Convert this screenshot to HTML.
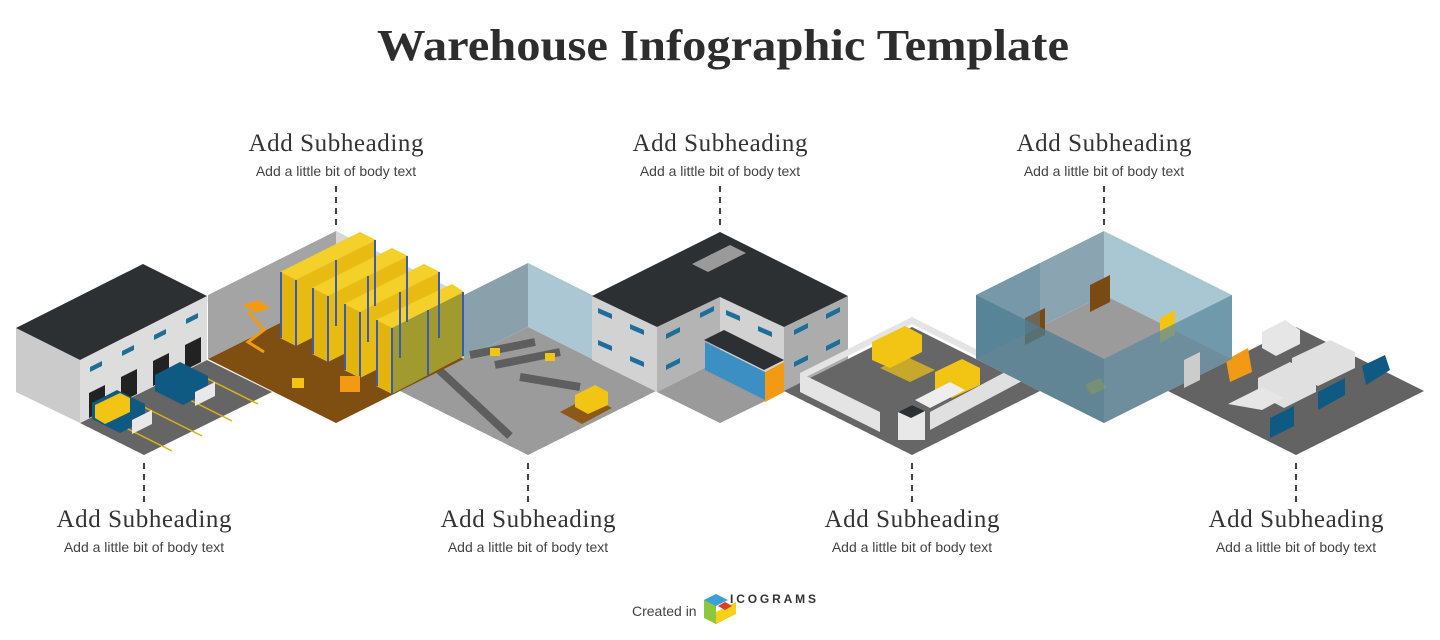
<!DOCTYPE html>
<html><head><meta charset="utf-8"><style>
html,body{margin:0;padding:0;background:#fff;width:1440px;height:640px;overflow:hidden}
svg{display:block}
</style></head><body>
<svg width="1440" height="640" viewBox="0 0 1440 640" xmlns="http://www.w3.org/2000/svg">
<text x="723" y="60" text-anchor="middle" font-family="Liberation Serif, serif" font-weight="bold" font-size="44" textLength="692" lengthAdjust="spacingAndGlyphs" fill="#2d2d2d">Warehouse Infographic Template</text>

<g font-family="Liberation Serif, serif" font-size="25" fill="#333" text-anchor="middle">
<text x="336" y="151" textLength="175">Add Subheading</text>
<text x="720" y="151" textLength="175">Add Subheading</text>
<text x="1104" y="151" textLength="175">Add Subheading</text>
<text x="144" y="527" textLength="175">Add Subheading</text>
<text x="528" y="527" textLength="175">Add Subheading</text>
<text x="912" y="527" textLength="175">Add Subheading</text>
<text x="1296" y="527" textLength="175">Add Subheading</text>
</g>
<g font-family="Liberation Sans, sans-serif" font-size="14" fill="#444" text-anchor="middle">
<text x="336" y="176">Add a little bit of body text</text>
<text x="720" y="176">Add a little bit of body text</text>
<text x="1104" y="176">Add a little bit of body text</text>
<text x="144" y="552">Add a little bit of body text</text>
<text x="528" y="552">Add a little bit of body text</text>
<text x="912" y="552">Add a little bit of body text</text>
<text x="1296" y="552">Add a little bit of body text</text>
</g>
<g stroke="#444" stroke-width="2" stroke-dasharray="6,5">
<line x1="336" y1="186" x2="336" y2="226"/><line x1="720" y1="186" x2="720" y2="226"/><line x1="1104" y1="186" x2="1104" y2="226"/>
<line x1="144" y1="463" x2="144" y2="505"/><line x1="528" y1="463" x2="528" y2="505"/><line x1="912" y1="463" x2="912" y2="505"/><line x1="1296" y1="463" x2="1296" y2="505"/>
</g>

<!-- cube3 conveyor -->
<polygon points="400,391 528,327 528,263 400,327" fill="#8aa0aa"/>
<polygon points="528,263 656,327 656,391 528,327" fill="#aac7d3"/>
<polygon points="400,391 528,327 656,391 528,455" fill="#9b9b9b"/>
<g stroke="#5e5e5e" stroke-width="8" fill="none">
<line x1="437" y1="368" x2="510" y2="436"/>
<line x1="470" y1="355" x2="535" y2="342"/>
<line x1="495" y1="365" x2="560" y2="352"/>
<line x1="520" y1="377" x2="580" y2="387"/>
</g>
<polygon points="560,412 590,396 612,408 582,424" fill="#8b5a16"/>
<polygon points="575,395 595,385 608,392 608,405 588,414 575,407" fill="#f2c414"/>
<rect x="490" y="348" width="10" height="8" fill="#f2c414"/><rect x="545" y="353" width="10" height="8" fill="#f2c414"/>

<!-- cube2 warehouse -->
<polygon points="208,359 336,295 336,231 208,295" fill="#a4a4a4"/>
<polygon points="336,231 464,295 464,359 336,295" fill="#d6d6d6"/>
<polygon points="208,359 336,295 464,359 336,423" fill="#7f4f12"/>
<!-- racks -->
<g>
<polygon points="280,272 296,280 376,240 360,232" fill="#f5cf2a"/>
<polygon points="280,272 296,280 296,346 280,338" fill="#e3b40e"/>
<polygon points="296,280 376,240 376,306 296,346" fill="#e8bb12"/>
<polygon points="312,288 328,296 408,256 392,248" fill="#f5cf2a"/>
<polygon points="312,288 328,296 328,362 312,354" fill="#e3b40e"/>
<polygon points="328,296 408,256 408,322 328,362" fill="#e8bb12"/>
<polygon points="344,304 360,312 440,272 424,264" fill="#f5cf2a"/>
<polygon points="344,304 360,312 360,378 344,370" fill="#e3b40e"/>
<polygon points="360,312 440,272 440,338 360,378" fill="#e8bb12"/>
<polygon points="376,320 392,328 464,292 452,284" fill="#f5cf2a"/>
<polygon points="376,320 392,328 392,394 376,386" fill="#e3b40e"/>
<polygon points="392,328 464,292 464,356 392,394" fill="#a19a2e"/>
<g stroke="#3a5bb0" stroke-width="2">
<line x1="281" y1="272" x2="281" y2="338"/><line x1="296" y1="280" x2="296" y2="346"/><line x1="336" y1="260" x2="336" y2="326"/><line x1="375" y1="240" x2="375" y2="306"/>
<line x1="313" y1="288" x2="313" y2="354"/><line x1="328" y1="296" x2="328" y2="362"/><line x1="368" y1="276" x2="368" y2="342"/><line x1="407" y1="256" x2="407" y2="322"/>
<line x1="345" y1="304" x2="345" y2="370"/><line x1="360" y1="312" x2="360" y2="378"/><line x1="400" y1="292" x2="400" y2="358"/><line x1="439" y1="272" x2="439" y2="338"/>
<line x1="377" y1="320" x2="377" y2="386"/><line x1="392" y1="328" x2="392" y2="394"/><line x1="428" y1="310" x2="428" y2="375"/><line x1="463" y1="292" x2="463" y2="356"/>
</g>
</g>
<polygon points="243,305 258,300 270,308 255,313" fill="#f29a14"/>
<path d="M248 312 L264 330 L248 342 L264 352" stroke="#f29a14" stroke-width="3" fill="none"/>
<rect x="340" y="376" width="20" height="16" fill="#f29a14"/>
<rect x="292" y="378" width="12" height="10" fill="#f2c414"/>

<!-- cube1 building -->
<polygon points="80,423 207,360 272,392 144,455" fill="#656565"/>
<g stroke="#d8b21a" stroke-width="1.5"><line x1="110" y1="420" x2="172" y2="451"/><line x1="140" y1="405" x2="202" y2="436"/><line x1="170" y1="390" x2="232" y2="421"/><line x1="200" y1="375" x2="258" y2="404"/></g>
<polygon points="16,328 80,360 80,423 16,392" fill="#cbcbcb"/>
<polygon points="80,360 207,296 207,360 80,423" fill="#dddddd"/>
<polygon points="16,328 143,264 207,296 80,360" fill="#2d3033"/>
<g fill="#1e6e9a"><polygon points="90,367 102,361 102,366 90,372"/><polygon points="122,351 134,345 134,350 122,356"/><polygon points="154,335 166,329 166,334 154,340"/><polygon points="186,319 198,313 198,318 186,324"/></g>
<polygon points="185,345 201,337 201,362 185,370" fill="#222"/>
<polygon points="153,361 169,353 169,378 153,386" fill="#222"/>
<polygon points="121,377 137,369 137,394 121,402" fill="#222"/>
<polygon points="89,393 105,385 105,410 89,418" fill="#222"/>
<polygon points="155,375 180,362 208,376 208,392 183,405 155,391" fill="#0e5a82"/>
<polygon points="195,392 215,382 215,396 195,406" fill="#e8e8e8"/>
<polygon points="92,403 117,390 145,404 145,420 120,433 92,419" fill="#0e5a82"/>
<polygon points="95,405 120,393 130,398 130,412 105,424 95,418" fill="#f2c414"/>
<polygon points="132,420 152,410 152,424 132,434" fill="#e8e8e8"/>

<!-- cube4 building -->
<polygon points="657,392 720,360 784,392 720,423" fill="#9a9a9a"/>
<polygon points="592,296 657,327 657,392 592,360" fill="#d2d2d2"/>
<polygon points="657,327 720,297 720,360 657,392" fill="#b4b4b4"/>
<polygon points="720,297 784,327 784,392 720,360" fill="#d2d2d2"/>
<polygon points="784,327 848,296 848,360 784,392" fill="#acacac"/>
<polygon points="592,296 720,232 848,296 784,327 720,297 657,327" fill="#2d3033"/>
<polygon points="692,264 712,254 728,262 708,272" fill="#9a9a9a"/><polygon points="710,255 730,245 746,253 726,263" fill="#9a9a9a"/>
<polygon points="704,340 724,330 784,360 764,370" fill="#2d3033"/>
<polygon points="705,342 765,372 765,400 705,370" fill="#3b8fc2"/>
<polygon points="765,372 784,362 784,392 765,402" fill="#f29a14"/>
<g fill="#1e6e9a"><polygon points="598,308 612,314 612,319 598,313"/><polygon points="630,324 644,330 644,335 630,329"/><polygon points="598,340 612,346 612,351 598,345"/><polygon points="630,356 644,362 644,367 630,361"/><polygon points="666,334 680,327 680,332 666,339"/><polygon points="666,365 680,358 680,363 666,370"/><polygon points="700,313 714,306 714,311 700,318"/><polygon points="726,310 740,316 740,321 726,315"/><polygon points="758,326 772,332 772,337 758,331"/><polygon points="794,330 808,323 808,328 794,335"/><polygon points="826,314 840,307 840,312 826,319"/><polygon points="794,362 808,355 808,360 794,367"/><polygon points="826,346 840,339 840,344 826,351"/></g>

<!-- cube5 yard -->
<polygon points="784,391 912,327 1040,391 912,455" fill="#666"/>
<polygon points="800,373 912,317 1024,373 1024,380 912,324 800,380" fill="#e4e4e4"/>
<polygon points="800,373 800,392 880,432 880,412" fill="#e4e4e4"/>
<polygon points="930,430 1024,380 1024,362 930,412" fill="#e0e0e0"/>
<polygon points="872,342 905,326 922,335 922,352 890,368 872,360" fill="#f2c414"/>
<polygon points="935,372 962,359 980,368 980,385 952,398 935,390" fill="#f2c414"/>
<polygon points="880,368 905,356 935,370 910,382" fill="#f2c414" opacity="0.7"/>
<polygon points="915,400 950,382 965,390 930,408" fill="#eee"/>
<polygon points="898,412 912,405 925,411 925,440 898,440" fill="#e8e8e8"/>
<polygon points="898,412 912,405 925,411 911,418" fill="#2d3033"/>

<!-- cube7 parking -->
<polygon points="1168,391 1296,327 1424,391 1296,455" fill="#636363"/>
<polygon points="1262,332 1285,320 1300,330 1300,344 1276,356 1262,348" fill="#e6e6e6"/>
<polygon points="1258,378 1290,362 1316,376 1316,392 1284,408 1258,394" fill="#e0e0e0"/>
<polygon points="1292,358 1330,340 1355,352 1355,368 1318,386 1292,372" fill="#e0e0e0"/>
<polygon points="1228,404 1262,387 1284,398 1262,410" fill="#e6e6e6"/>
<polygon points="1270,418 1294,406 1294,426 1270,438" fill="#0e5a82"/>
<polygon points="1318,392 1345,378 1345,395 1318,410" fill="#0e5a82"/>
<polygon points="1362,366 1385,355 1390,370 1366,385" fill="#0e5a82"/>
<polygon points="1226,360 1248,348 1252,372 1230,382" fill="#f29a14"/>

<!-- cube6 office glass -->
<polygon points="976,295 1104,231 1104,295 976,359" fill="#8aa4b1"/>
<polygon points="1104,231 1232,295 1232,359 1104,295" fill="#a9c7d3"/>
<polygon points="976,359 1104,295 1232,359 1104,423" fill="#9b9b9b"/>
<polygon points="1090,285 1110,275 1110,302 1090,312" fill="#7a4a14"/>
<polygon points="1025,318 1045,308 1045,335 1025,345" fill="#7a4a14"/>
<polygon points="1160,318 1175,310 1175,335 1160,343" fill="#f2c414"/>
<polygon points="1085,385 1100,378 1106,388 1091,395" fill="#f2c414"/>
<polygon points="976,295 1040,263 1040,327 976,359" fill="#5d8aa0" opacity="0.45"/>
<polygon points="976,295 1104,359 1104,423 976,359" fill="#4f7d93" opacity="0.75"/>
<polygon points="1104,359 1232,295 1232,359 1104,423" fill="#5f8a9f" opacity="0.75"/>
<polygon points="1184,360 1200,352 1200,380 1184,388" fill="#ccc"/>

<!-- footer -->
<text x="632" y="616" font-family="Liberation Sans, sans-serif" font-size="14" fill="#444">Created in</text>
<polygon points="704,600 716,594 716,612 728,618 716,624 704,618" fill="#8dc63f"/>
<polygon points="704,600 716,594 728,600 716,606" fill="#3aa0d8"/>
<polygon points="716,612 736,602 736,614 716,624" fill="#f7d117"/>
<polygon points="718,606 725,602 732,606 725,610" fill="#e03a2a"/>
<text x="730" y="603" font-family="Liberation Sans, sans-serif" font-weight="bold" font-size="12" textLength="86" fill="#333">ICOGRAMS</text>
</svg>
</body></html>
